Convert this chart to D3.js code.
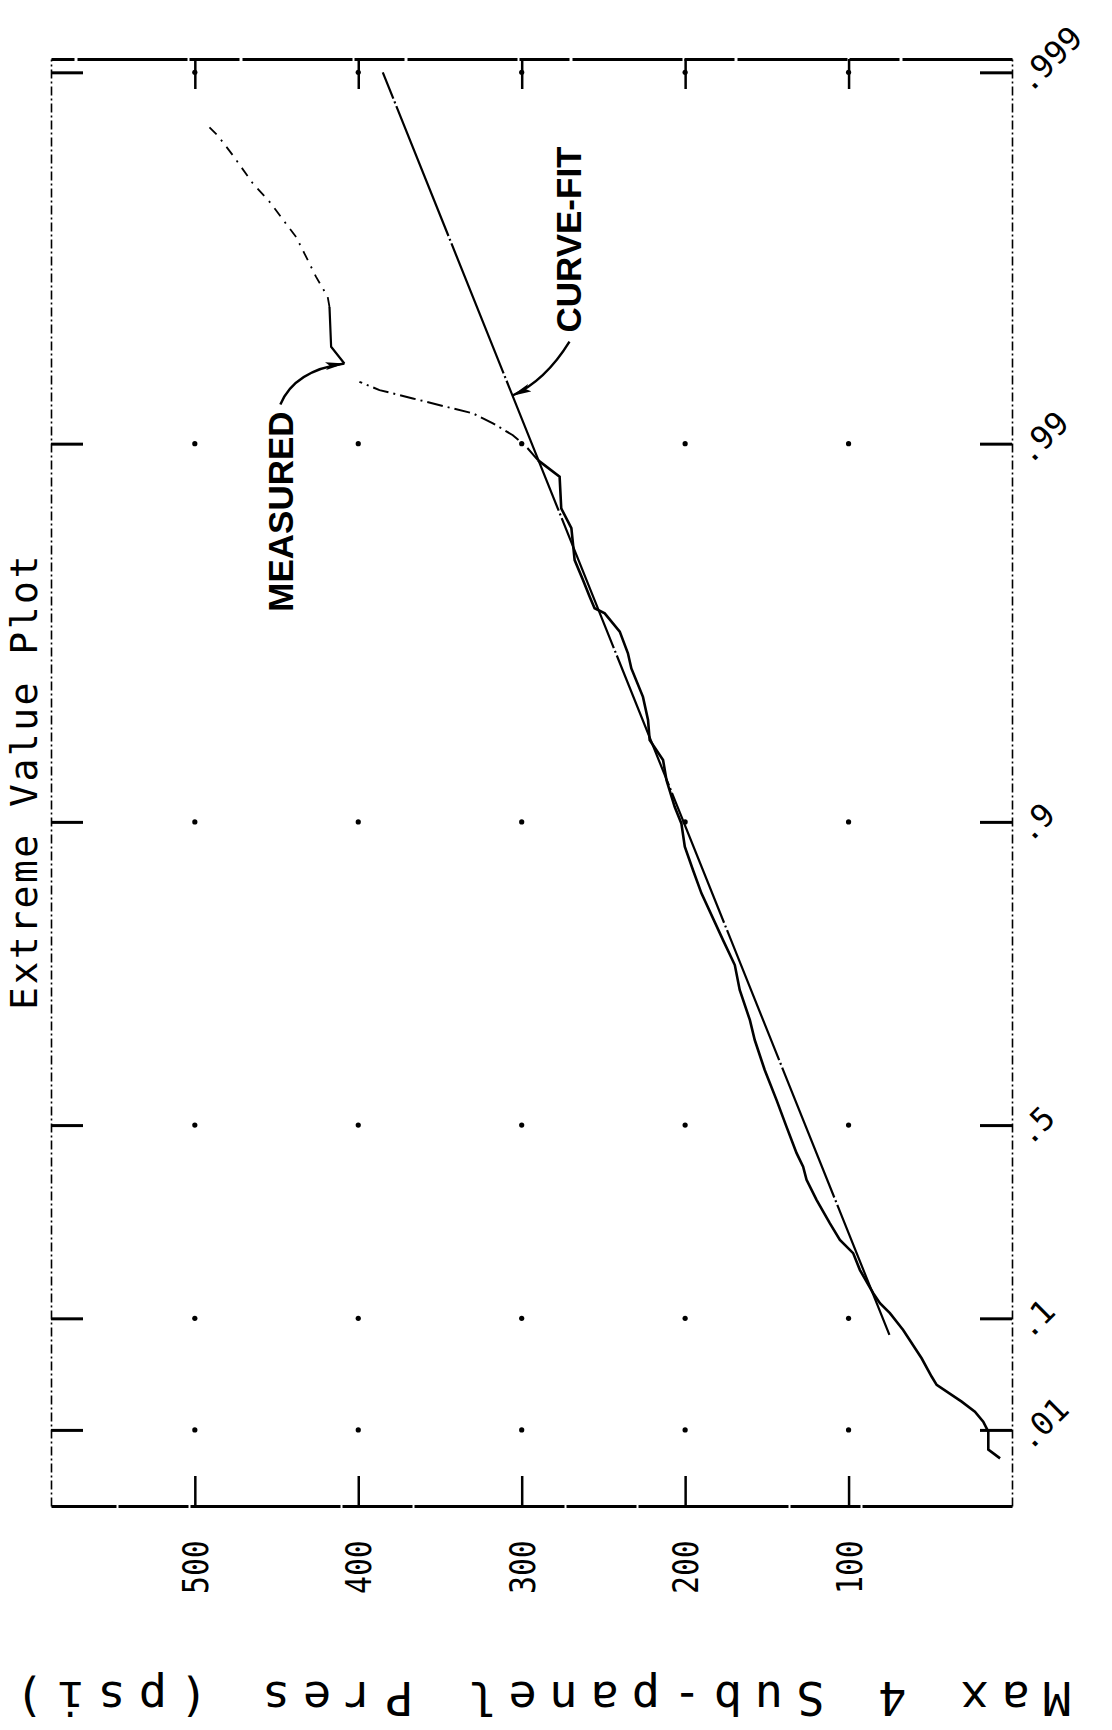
<!DOCTYPE html>
<html><head><meta charset="utf-8">
<script src="https://cdn.jsdelivr.net/npm/d3@7"></script>
<style>html,body{margin:0;padding:0;background:#fff}</style>
</head><body><svg id="c" width="1112" height="1730"></svg>
<script>
// ---------------- data ----------------
const probTicks = [0.01, 0.1, 0.5, 0.9, 0.99, 0.999];
const probTickLabels = [".01", ".1", ".5", ".9", ".99", ".999"];
const presTicks = [100, 200, 300, 400, 500];
const presTickLabels = ["100", "200", "300", "400", "500"];
const presDomain = [0, 588];
const reducedDomain = [-2.0, 6.99];

// measured extreme values (cumulative probability, psi), low to high
const measuredProb = [0.0041, 0.0055, 0.0095, 0.0126, 0.0164, 0.0210, 0.0308, 0.0367, 0.0523, 0.0842,
  0.1075, 0.1230, 0.1395, 0.1820, 0.2153, 0.2430, 0.2794, 0.3319, 0.3775, 0.4076,
  0.4381, 0.4967, 0.5528, 0.6113, 0.6646, 0.6972, 0.7412, 0.7738, 0.8028, 0.8485,
  0.8675, 0.8843, 0.8991, 0.9085, 0.9219, 0.9308, 0.9386, 0.9456, 0.9527, 0.9602,
  0.9637, 0.9682, 0.97157, 0.97244, 0.97433, 0.97683, 0.97950, 0.98315, 0.98508, 0.98773,
  0.98893, 0.98981, 0.99051, 0.99118, 0.99171, 0.99204, 0.99244, 0.99282, 0.99318, 0.99391,
  0.99451, 0.99571, 0.99597, 0.99644, 0.99692, 0.99722, 0.99744, 0.99774, 0.99801, 0.99833,
  0.99852, 0.99861];
const measuredPres = [7.3, 14.5, 14.5, 17.6, 22.7, 30.8, 46.1, 49.2, 55.3, 66.6,
  74.7, 80.8, 84.9, 93.1, 97.2, 105.3, 111.5, 119.6, 125.7, 127.8,
  131.8, 138.0, 144.1, 151.3, 157.4, 160.4, 166.6, 169.6, 176.8, 190.0,
  195.2, 200.2, 202.3, 206.4, 211.4, 213.5, 221.7, 222.7, 225.8, 232.9,
  235.0, 240.0, 249.2, 255.4, 258.4, 262.5, 267.6, 269.6, 275.8, 276.8,
  290.1, 297.2, 305.4, 317.6, 329.9, 346.2, 366.6, 387.0, 399.3, 408.5,
  416.6, 417.6, 418.7, 425.8, 432.9, 438.0, 444.2, 453.3, 464.6, 476.9,
  486.0, 492.2];

// fitted extreme value (Gumbel) line
const fitProb = [0.078, 0.999];
const fitPres = [75, 385];

const titleText = "Extreme Value Plot";
const yLabelText = "Max 4 Sub-panel Pres (psi)";
const measuredLabel = "MEASURED";
const fitLabel = "CURVE-FIT";

// ---------------- layout ----------------
const M = {left: 51, right: 1012, top: 59, bottom: 1506};
const svg = d3.select("#c");
const gumbel = p => -Math.log(-Math.log(p));
const xP = d3.scaleLinear().domain(presDomain).range([M.right, M.left]);
const yR = d3.scaleLinear().domain(reducedDomain).range([M.bottom, M.top]);
const yP = p => yR(gumbel(p));
const MONO = "'DejaVu Sans Mono', 'Liberation Mono', monospace";
const SANS = "'Liberation Sans', Arial, sans-serif";

// ---------------- axes (box edges + inward ticks) ----------------
function styleAxis(g, domainW, dash, tickW) {
  g.select(".domain").attr("stroke", "#000").attr("stroke-width", domainW)
    .attr("stroke-dasharray", dash);
  g.selectAll(".tick line").attr("stroke", "#000").attr("stroke-width", tickW);
  g.selectAll(".tick text").remove();
}
const noLab = () => "";
svg.append("g").attr("transform", `translate(0,${M.bottom})`)
  .call(d3.axisBottom(xP).tickValues(presTicks).tickSize(-30).tickSizeOuter(0).tickFormat(noLab))
  .call(g => styleAxis(g, 3, "150,2,70,2", 2.5));
svg.append("g").attr("transform", `translate(0,${M.top})`)
  .call(d3.axisTop(xP).tickValues(presTicks).tickSize(-30).tickSizeOuter(0).tickFormat(noLab))
  .call(g => styleAxis(g, 3, "110,3,50,2", 2.5));
svg.append("g").attr("transform", `translate(${M.left},0)`)
  .call(d3.axisLeft(yR).tickValues(probTicks.map(gumbel)).tickSize(-32).tickSizeOuter(0).tickFormat(noLab))
  .call(g => styleAxis(g, 1.6, "9,3,2,3", 3));
svg.append("g").attr("transform", `translate(${M.right},0)`)
  .call(d3.axisRight(yR).tickValues(probTicks.map(gumbel)).tickSize(-32).tickSizeOuter(0).tickFormat(noLab))
  .call(g => styleAxis(g, 1.6, "9,3,2,3", 3));

// grid dots
const dots = [];
presTicks.forEach(v => probTicks.forEach(p => dots.push([v, p])));
svg.append("g").selectAll("circle").data(dots).join("circle")
  .attr("cx", d => xP(d[0])).attr("cy", d => yP(d[1])).attr("r", 2.6).attr("fill", "#000");

// ---------------- tick labels ----------------
svg.append("g").selectAll("text").data(presTicks).join("text")
  .attr("transform", d => `translate(${xP(d) + 13},1594) rotate(-90) scale(0.85,1)`)
  .attr("font-family", MONO).attr("font-size", 35).attr("fill", "#000")
  .text((d, i) => presTickLabels[i]);

svg.append("g").selectAll("text").data(probTicks).join("text")
  .attr("transform", d => `translate(1030,${yP(d) + 22}) rotate(-45)`)
  .attr("font-family", MONO).attr("font-size", 32).attr("fill", "#000")
  .text((d, i) => probTickLabels[i]);

// title and axis label
svg.append("text").attr("transform", `translate(37,1010) rotate(-90)`)
  .attr("font-family", MONO).attr("font-size", 38).attr("letter-spacing", 2.5)
  .attr("fill", "#000").text(titleText);
svg.append("text").attr("transform", `translate(1071,1682) rotate(180)`)
  .attr("font-family", MONO).attr("font-size", 47).attr("letter-spacing", 12.8)
  .attr("fill", "#000").text(yLabelText);

// ---------------- series ----------------
const measured = measuredProb.map((p, i) => ({p, v: measuredPres[i]}));
const line = d3.line().x(d => xP(d.v)).y(d => yP(d.p));
const fit = fitProb.map((p, i) => ({p, v: fitPres[i]}));

svg.append("path").datum(fit).attr("d", line).attr("fill", "none")
  .attr("stroke", "#000").attr("stroke-width", 2.2).attr("stroke-dasharray", "140,3,2,3");

const gM = svg.append("g").attr("fill", "none").attr("stroke", "#000");
gM.append("path").datum(measured.slice(0, 51)).attr("d", line).attr("stroke-width", 2.6);
gM.append("path").datum(measured.slice(50, 59)).attr("d", line).attr("stroke-width", 2)
  .attr("stroke-dasharray", "16,5,2,5");
gM.append("path").datum(measured.slice(59, 62)).attr("d", line).attr("stroke-width", 2.2);
gM.append("path").datum(measured.slice(61)).attr("d", line).attr("stroke-width", 1.8)
  .attr("stroke-dasharray", "10,7,2,7");

// ---------------- annotations ----------------
const defs = svg.append("defs");
defs.append("marker").attr("id", "ah").attr("viewBox", "0 -5 20 10")
  .attr("markerUnits", "userSpaceOnUse").attr("markerWidth", 20).attr("markerHeight", 10)
  .attr("refX", 19).attr("refY", 0).attr("orient", "auto")
  .append("path").attr("d", "M0,-4L20,0L0,4L4,0Z").attr("fill", "#000");

function annotate(tip, label, textOff, startOff, ctrlOff) {
  const [tx, ty] = tip;
  const s = [tx + startOff[0], ty + startOff[1]];
  const c = [tx + ctrlOff[0], ty + ctrlOff[1]];
  svg.append("path").attr("d", `M${s[0]},${s[1]}Q${c[0]},${c[1]} ${tx},${ty}`)
    .attr("fill", "none").attr("stroke", "#000").attr("stroke-width", 2.4)
    .attr("marker-end", "url(#ah)");
  svg.append("text").attr("transform", `translate(${tx + textOff[0]},${ty + textOff[1]}) rotate(-90)`)
    .attr("font-family", SANS).attr("font-weight", "bold").attr("font-size", 35)
    .attr("text-anchor", "middle").attr("fill", "#000").text(label);
}
const kink = measured[59];
annotate([xP(kink.v), yP(kink.p)], measuredLabel, [-51, 148], [-64, 41], [-50, 7]);
const t = 0.744;
const f0 = [xP(fit[0].v), yP(fit[0].p)], f1 = [xP(fit[1].v), yP(fit[1].p)];
annotate([f0[0] + t * (f1[0] - f0[0]), f0[1] + t * (f1[1] - f0[1])], fitLabel, [69, -156], [57, -54], [33, -15]);
</script>
</body></html>
